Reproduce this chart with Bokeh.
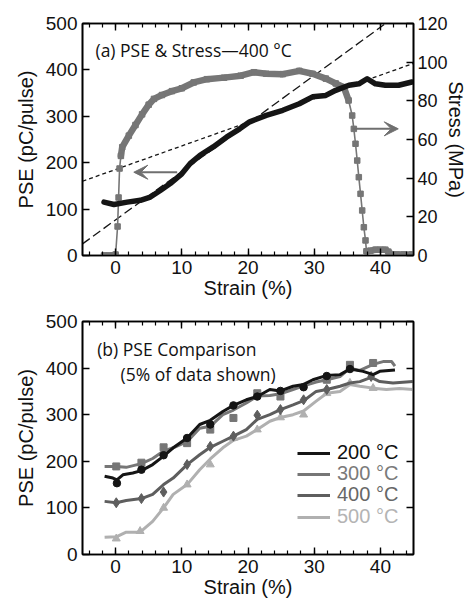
from bokeh.plotting import figure
from bokeh.models import (Range1d, LinearAxis, SingleIntervalTicker, Arrow, VeeHead,
                          Label, Legend, LegendItem, CustomJSTickFormatter)
from bokeh.layouts import column
from bokeh.embed import file_html
from bokeh.resources import INLINE

# ---------------- data: panel (a) ----------------
pse400_strain = [-1.75, -0.25, 1.75, 3.75, 5.25, 6.75, 8.25, 10, 11.25, 12.75, 14.75, 16.75,
                 18.75, 20.25, 22.75, 25.25, 27.75, 29.75, 31.75, 33.25, 35.25, 36.75, 38,
                 39.25, 40.75, 42.75, 44.75]
pse400_val = [115, 110, 115, 119, 126, 140, 155, 176, 198, 216, 234, 255, 273, 288, 302, 313,
              327, 342, 345, 356, 367, 370, 381, 370, 367, 367, 374]

stress_strain = [-1.75, -1.0, -0.3, 0.0, 0.3, 0.45, 0.6, 0.8, 1.0, 2.0, 3.0, 4.0, 5.0, 5.8, 7.0,
                 8.5, 10.0, 11.8, 13.8, 16.4, 18.9, 20.9, 22.75, 25.25, 27.75, 29.75, 31.75,
                 33.25, 34.47, 35.2, 35.74, 35.99, 36.24, 36.5, 36.74, 37.0, 37.25, 37.5, 37.75,
                 37.9, 38.5, 39.25, 40.0, 40.75, 41.2, 41.75, 42.5, 43.5, 44.75]
stress_mpa = [0, 0, 0, 0.5, 15, 30, 45, 51.5, 56, 62, 67.5, 73, 78, 81, 83, 85, 86.5, 89.5,
              91.2, 92, 93, 94.8, 94, 93.8, 95.5, 94, 91.5, 89, 87.1, 80.2, 72.4, 65.5, 57.8,
              49.1, 40.5, 31.9, 23.3, 14.6, 7.8, 2.2, 2.5, 3, 3, 3, 2, 0.5, 0.5, 0.5, 0.5]

# linear guides (strain, value)
guide_pse_x = [-5, 45]
guide_pse_y = [160, 414]          # PSE units
guide_stress_x = [-5, 45]
guide_stress_y = [6.0, 130.5]     # MPa

arrow_left = dict(x0=9.3, x1=2.75, y=179.5)     # points to PSE axis
arrow_right = dict(x0=35.9, x1=42.7, y=273.0)   # points to stress axis

# ---------------- data: panel (b) ----------------
s200_x = [-1.66, -0.4, 0.2, 1.1, 2.6, 3.9, 5.6, 7.25, 8.7, 10.8, 12.7, 14.3, 16.2, 17.8, 19.75,
          21.4, 23.3, 24.9, 26.8, 28.4, 29.8, 31.8, 33.9, 35.4, 37.4, 38.9, 39.9, 42.2]
s200_y = [168, 164, 160, 171, 175, 180, 193, 211, 229, 250, 279, 288, 307, 320, 332, 339, 354,
          351, 361, 365, 375, 384, 386, 398, 393, 386, 393, 396]
s300_x = [-1.66, 0.1, 1.6, 3.9, 5.6, 7.25, 8.7, 10.8, 12.7, 14.3, 16.2, 17.8, 19.75, 21.4, 23.3,
          24.9, 26.8, 28.4, 30.3, 31.9, 33.9, 35.4, 36.9, 38.9, 40.4, 41.7, 42.2]
s300_y = [189, 189, 187, 195, 206, 222, 229, 242, 271, 275, 300, 310, 325, 340, 341, 345, 354,
          362, 370, 375, 382, 400, 395, 408, 414, 414, 404]
s400_x = [-1.66, 0.1, 1.6, 3.9, 5.6, 7.25, 8.7, 10.8, 12.7, 14.3, 16.2, 17.8, 19.75, 21.4, 23.3,
          24.9, 26.8, 28.4, 30.3, 31.9, 33.9, 35.4, 36.9, 38.6, 39.9, 41.9, 44.9]
s400_y = [114, 111, 116, 120, 129, 150, 164, 193, 214, 230, 243, 254, 268, 290, 300, 311, 321,
          330, 350, 354, 361, 368, 371, 380, 371, 368, 371]
s500_x = [-1.66, 0.1, 1.6, 3.7, 5.6, 7.25, 8.7, 10.8, 12.7, 14.3, 16.2, 17.8, 19.75, 21.4, 23.3,
          24.9, 26.8, 28.4, 30.3, 31.9, 33.9, 35.4, 36.9, 38.9, 40.9, 42.9, 44.9]
s500_y = [37, 38, 48, 48, 71, 100, 129, 150, 182, 205, 229, 245, 254, 268, 286, 294, 300, 308,
          329, 346, 350, 365, 361, 357, 354, 356, 354]

m200_x = [0.2, 3.9, 7.25, 10.8, 14.3, 17.8, 21.4, 24.9, 28.4, 31.9, 35.4]
m200_y = [153, 182, 213, 250, 279, 320, 339, 351, 359, 383, 398]
m300_x = [0.1, 3.9, 7.25, 10.8, 14.3, 17.8, 21.4, 24.9, 31.9, 35.4, 38.9]
m300_y = [189, 197, 230, 239, 268, 293, 346, 339, 375, 407, 411]
m400_x = [0.1, 3.9, 7.25, 10.8, 14.3, 17.8, 21.4, 24.9, 28.4, 31.9, 38.6]
m400_y = [111, 120, 134, 193, 232, 254, 299, 311, 332, 354, 382]
m500_x = [0.1, 3.7, 7.25, 10.8, 14.3, 17.8, 21.4, 24.9, 28.4, 31.9, 35.4, 38.9]
m500_y = [34, 50, 100, 150, 193, 250, 268, 294, 300, 346, 368, 357]

series_labels = ["200 °C", "300 °C", "400 °C", "500 °C"]

# ---------------- styling ----------------
FONT = "Liberation Sans"
TITLE_FONT = "Open Sans"
BLACK = "#151515"
STRESS_GRAY = "#767676"
C200, C300, C400, C500 = "#151515", "#767676", "#5e5e5e", "#b0b0b0"
T200, T300, T400, T500 = "#111111", "#7a7a7a", "#676767", "#b4b4b4"


def style_axis(ax, minor=0, labels=True, interval=10, tick_font="19px"):
    ax.ticker = SingleIntervalTicker(interval=interval, num_minor_ticks=minor)
    ax.axis_line_color = "black"
    ax.axis_line_width = 1.6
    ax.major_tick_line_color = "black"
    ax.major_tick_line_width = 1.4
    ax.minor_tick_line_color = "black"
    ax.minor_tick_line_width = 1.2
    ax.major_tick_in = 7
    ax.major_tick_out = 0
    ax.minor_tick_in = 4
    ax.minor_tick_out = 0
    ax.major_label_text_font = FONT
    ax.major_label_text_font_size = tick_font
    ax.major_label_text_color = "#111111"
    ax.axis_label_text_font = FONT
    ax.axis_label_text_font_size = "20px"
    ax.axis_label_text_font_style = "normal"
    ax.axis_label_text_color = "#111111"
    if not labels:
        ax.formatter = CustomJSTickFormatter(code="return ''")


def make_fig(frame_h, top):
    p = figure(frame_width=331, frame_height=frame_h, x_range=Range1d(-5, 45),
               y_range=Range1d(0, 500), output_backend="svg", toolbar_location=None,
               min_border_left=82, min_border_right=56, min_border_top=top,
               min_border_bottom=45)
    p.xgrid.visible = False
    p.ygrid.visible = False
    p.outline_line_color = "black"
    p.outline_line_width = 1.6
    p.background_fill_color = "white"
    p.border_fill_color = "white"
    return p


# ================= panel (a) =================
pa = make_fig(232, 23)
pa.extra_y_ranges = {"stress": Range1d(0, 120)}

xa = pa.xaxis[0]
style_axis(xa, minor=5, interval=10)
xa.axis_label = "Strain (%)"
xa.major_label_standoff = 5
xa.axis_label_standoff = 0
ya = pa.yaxis[0]
style_axis(ya, minor=0, interval=100)
ya.axis_label = "PSE (pC/pulse)"
ya.major_label_standoff = 5
ya.axis_label_standoff = 6

top_a = LinearAxis()
style_axis(top_a, minor=5, labels=False, interval=10)
pa.add_layout(top_a, "above")

right_a = LinearAxis(y_range_name="stress", axis_label="Stress (MPa)")
style_axis(right_a, minor=0, interval=20, tick_font="18px")
right_a.major_label_standoff = 4
right_a.axis_label_standoff = -6
pa.add_layout(right_a, "right")

# guide lines
pa.line(guide_pse_x, guide_pse_y, line_color=BLACK, line_width=1.3, line_dash="4 3")
pa.line(guide_stress_x, guide_stress_y, y_range_name="stress", line_color=BLACK,
        line_width=1.3, line_dash="9 4")

# stress curve: thin line + square markers + thick band on dense stretches
pa.line(stress_strain, stress_mpa, y_range_name="stress", line_color=STRESS_GRAY, line_width=1.6)
seg_a = [i for i, v in enumerate(stress_strain) if v <= 0.0]
seg_b = [i for i, v in enumerate(stress_strain) if 0.8 <= v <= 35.2]
seg_c = [i for i, v in enumerate(stress_strain) if v >= 37.9]
pa.multi_line([[stress_strain[i] for i in s] for s in (seg_a, seg_b, seg_c)],
              [[stress_mpa[i] for i in s] for s in (seg_a, seg_b, seg_c)],
              y_range_name="stress", line_color=STRESS_GRAY, line_width=6.5,
              line_join="round", line_cap="round")
pa.scatter(stress_strain, stress_mpa, y_range_name="stress", marker="square", size=5.5,
           fill_color=STRESS_GRAY, line_color=STRESS_GRAY)

# PSE curve
pa.line(pse400_strain, pse400_val, line_color=BLACK, line_width=5.5, line_join="round",
        line_cap="round")

# arrows
gray_arrow = "#6f6f6f"
pa.add_layout(Arrow(end=VeeHead(size=14, fill_color=gray_arrow, line_color=gray_arrow),
                    x_start=arrow_left["x0"], y_start=arrow_left["y"],
                    x_end=arrow_left["x1"], y_end=arrow_left["y"],
                    line_color=gray_arrow, line_width=2))
pa.add_layout(Arrow(end=VeeHead(size=14, fill_color=gray_arrow, line_color=gray_arrow),
                    x_start=arrow_right["x0"], y_start=arrow_right["y"],
                    x_end=arrow_right["x1"], y_end=arrow_right["y"],
                    line_color=gray_arrow, line_width=2))

pa.add_layout(Label(x=-3.04, y=442, text="(a) PSE & Stress\u2014400 °C", text_font=TITLE_FONT,
                    text_font_size="17.5px", text_color="#111111", text_baseline="middle"))

# ================= panel (b) =================
pb = make_fig(233, 20)
xb = pb.xaxis[0]
style_axis(xb, minor=5, interval=10)
xb.axis_label = "Strain (%)"
xb.major_label_standoff = 5
xb.axis_label_standoff = 0
yb = pb.yaxis[0]
style_axis(yb, minor=0, interval=100)
yb.axis_label = "PSE (pC/pulse)"
yb.major_label_standoff = 5
yb.axis_label_standoff = 6

top_b = LinearAxis()
style_axis(top_b, minor=5, labels=False, interval=10)
pb.add_layout(top_b, "above")
right_b = LinearAxis()
style_axis(right_b, minor=0, labels=False, interval=100)
pb.add_layout(right_b, "right")

specs = [
    (s500_x, s500_y, m500_x, m500_y, C500, T500, "triangle", 8, 4.5),
    (s400_x, s400_y, m400_x, m400_y, C400, T400, "diamond", 10, 6),
    (s300_x, s300_y, m300_x, m300_y, C300, T300, "square", 7, 5),
    (s200_x, s200_y, m200_x, m200_y, C200, T200, "circle", 7.5, 5),
]
legend_rows = {}
for (lx, ly, mx, my, col, tcol, mk, ms, lms), lab in zip(specs, series_labels[::-1]):
    ln = pb.line(lx, ly, line_color=col, line_width=3, line_join="round")
    pb.scatter(mx, my, marker=mk, size=ms, fill_color=col, line_color=col)
    dummy = pb.scatter(x=[], y=[], marker=mk, size=lms, fill_color=col, line_color=col)
    legend_rows[lab] = (ln, dummy, tcol)

legend_y = [90, 69, 48, 26]
for lab, ly in zip(series_labels, legend_y):
    ln, dm, tcol = legend_rows[lab]
    lg = Legend(items=[LegendItem(label=lab, renderers=[ln, dm])], location=(215, ly),
                label_text_font=FONT, label_text_font_size="20px", label_text_color=tcol,
                glyph_width=33, glyph_height=20, label_standoff=7, padding=0, margin=0,
                spacing=0, background_fill_alpha=0, border_line_alpha=0, label_height=20)
    pb.add_layout(lg, "center")

pb.add_layout(Label(x=-2.78, y=440, text="(b) PSE Comparison", text_font=TITLE_FONT,
                    text_font_size="17.5px", text_color="#111111", text_baseline="middle"))
pb.add_layout(Label(x=0.74, y=388, text="(5% of data shown)", text_font=TITLE_FONT,
                    text_font_size="17.5px", text_color="#111111", text_baseline="middle"))

layout = column(pa, pb, spacing=0)
open("out.html", "w").write(file_html(layout, INLINE))
